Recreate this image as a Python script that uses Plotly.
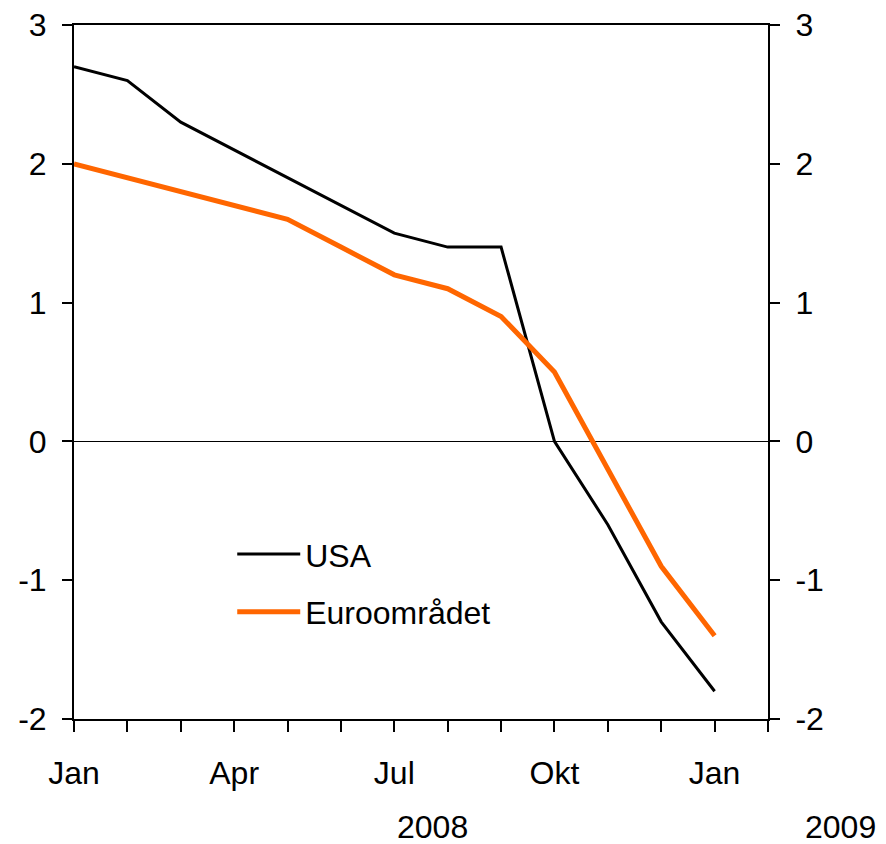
import plotly.graph_objects as go

months = ["Jan", "Feb", "Mar", "Apr", "Mai", "Jun", "Jul", "Aug", "Sep", "Okt", "Nov", "Des", "Jan"]
tick_labels = ["Jan", "", "", "Apr", "", "", "Jul", "", "", "Okt", "", "", "Jan", ""]
y_ticks = [-2, -1, 0, 1, 2, 3]
y_tick_labels = ["-2", "-1", "0", "1", "2", "3"]
usa = [2.7, 2.6, 2.3, 2.1, 1.9, 1.7, 1.5, 1.4, 1.4, 0.0, -0.6, -1.3, -1.8]
euro = [2.0, 1.9, 1.8, 1.7, 1.6, 1.4, 1.2, 1.1, 0.9, 0.5, -0.2, -0.9, -1.4]
years = ["2008", "2009"]
year_pos = [0.516, 1.1045]

x = list(range(len(months)))
FONT = "Liberation Sans, Arial, sans-serif"
FS = 32

fig = go.Figure()
fig.add_trace(go.Scatter(x=x, y=usa, mode="lines", name="USA",
                         line=dict(color="black", width=3), legendgroup="a"))
fig.add_trace(go.Scatter(x=x, y=euro, mode="lines", name="Euroområdet",
                         line=dict(color="#FF6600", width=5), legendgroup="b"))
fig.add_trace(go.Scatter(x=[0], y=[0], yaxis="y2", mode="lines", showlegend=False,
                         hoverinfo="skip", line=dict(color="rgba(0,0,0,0)")))

for t, p in zip(years, year_pos):
    fig.add_annotation(text=t, x=p, xref="paper", y=-0.1556, yref="paper",
                       showarrow=False, font=dict(size=FS, color="black", family=FONT),
                       xanchor="center", yanchor="middle")

fig.update_layout(
    width=878, height=836,
    margin=dict(l=66, r=118, t=17, b=125, autoexpand=False),
    paper_bgcolor="white", plot_bgcolor="white",
    font=dict(family=FONT, size=FS, color="black"),
    showlegend=True,
    legend=dict(x=0.228, y=0.277, xanchor="left", yanchor="top", itemwidth=63,
                bgcolor="rgba(0,0,0,0)", traceorder="grouped", tracegroupgap=13,
                font=dict(size=FS)),
    xaxis=dict(range=[0, 13], tickvals=list(range(14)), ticktext=tick_labels,
               ticks="outside", ticklen=11, tickwidth=1.5, tickcolor="black",
               ticklabelstandoff=14, ticklabeloverflow="allow", automargin=False,
               showline=True, linecolor="black", linewidth=2, mirror=True,
               showgrid=False, zeroline=False, tickfont=dict(size=FS)),
    yaxis=dict(range=[-2, 3], tickvals=y_ticks, ticktext=y_tick_labels,
               ticks="outside", ticklen=10, tickwidth=1.5, ticklabelstandoff=9,
               ticklabeloverflow="allow", automargin=False,
               tickcolor="black", showline=True, linecolor="black", linewidth=2,
               showgrid=False, zeroline=True, zerolinecolor="black", zerolinewidth=1,
               tickfont=dict(size=FS)),
    yaxis2=dict(range=[-2, 3], tickvals=y_ticks, ticktext=y_tick_labels,
                overlaying="y", side="right", ticks="outside", ticklabelstandoff=9,
                ticklabeloverflow="allow", automargin=False,
                ticklen=10, tickwidth=1.5, tickcolor="black", showline=True,
                linecolor="black", linewidth=2, showgrid=False, zeroline=False,
                tickfont=dict(size=FS)),
)

fig.write_html("out.html")
